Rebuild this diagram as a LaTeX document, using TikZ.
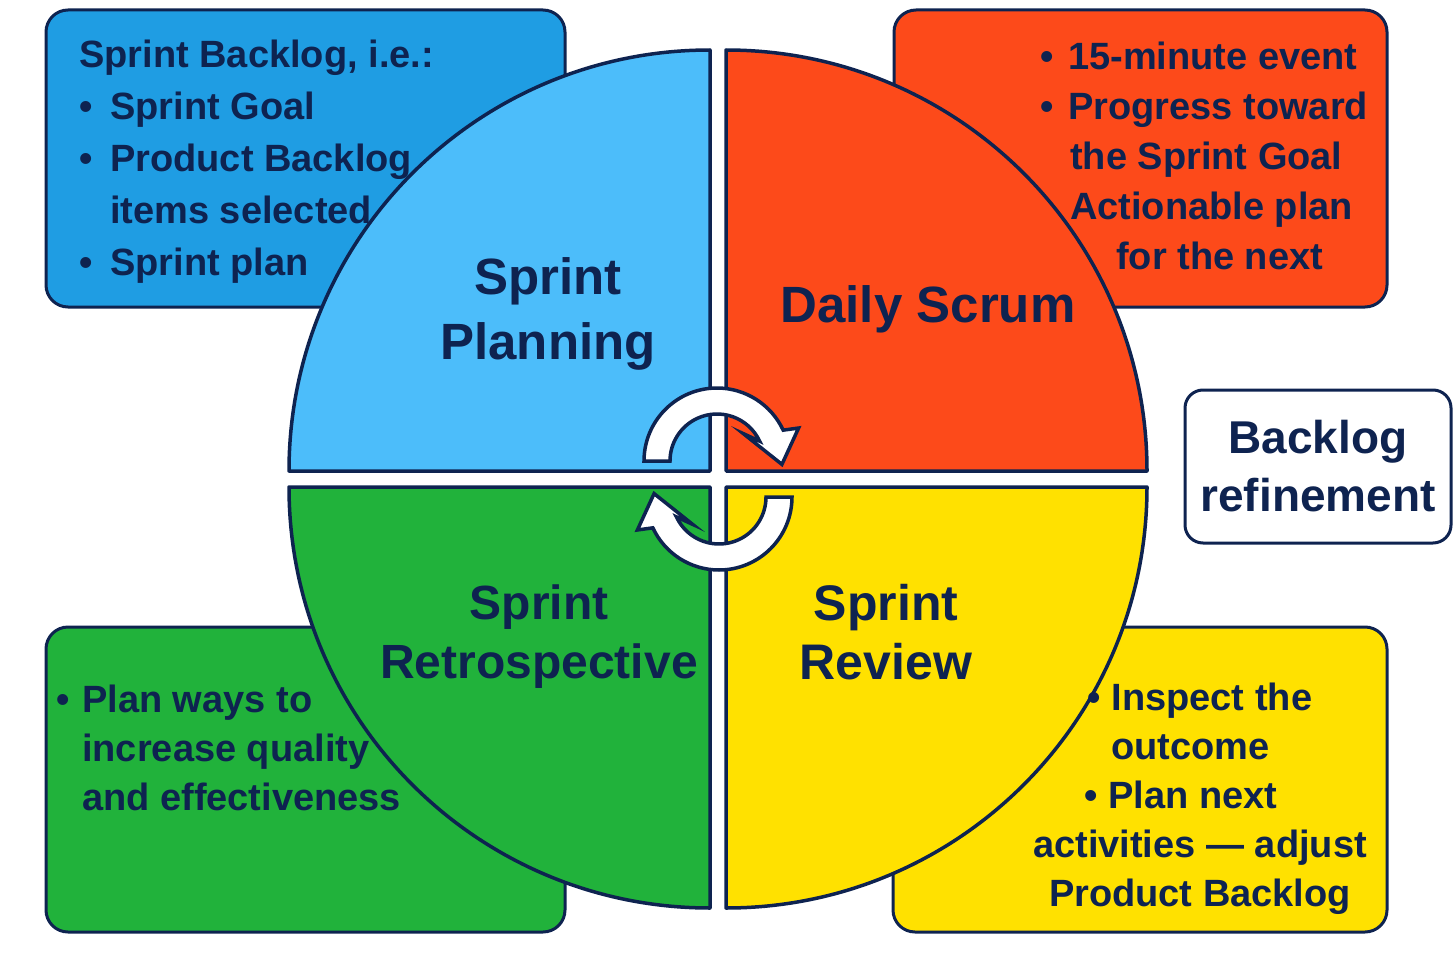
\documentclass[tikz,border=0pt]{standalone}
\usepackage{fontspec}
\setmainfont{Liberation Sans}

\definecolor{navy}{HTML}{0E2350}
\definecolor{boxblue}{HTML}{1F9DE3}
\definecolor{planblue}{HTML}{4CBDFA}
\definecolor{scrumred}{HTML}{FD4A1A}
\definecolor{retrogreen}{HTML}{21B23B}
\definecolor{reviewyellow}{HTML}{FFE100}

\tikzset{
  quad/.style={draw=navy, line width=3.5pt, line join=round},
  infobox/.style={draw=navy, line width=3pt, rounded corners=22pt},
  boxtext/.style={text=navy, inner sep=0pt, align=left,
    font=\bfseries\fontsize{38}{#1}\selectfont},
  phase/.style={text=navy, inner sep=0pt, align=center,
    font=\bfseries\fontsize{51}{65}\selectfont},
  arrowline/.style={draw=navy, fill=white, line width=3.5pt},
  cyclearrow/.pic={
    \draw[arrowline] (180:73) arc[start angle=180, end angle=25, radius=73]
      -- (22:88) -- (-3:65) -- (46:38) -- (25:47)
      arc[start angle=25, end angle=180, radius=47] -- cycle;
  }
}

\begin{document}
\begin{tikzpicture}[x=1pt, y=1pt]
  \useasboundingbox (0,0) rectangle (1456,-971);

  % side boxes
  \draw[infobox, fill=boxblue]     (46,-10)   rectangle (565,-307);
  \draw[infobox, fill=scrumred]    (894,-10)  rectangle (1387,-307);
  \draw[infobox, fill=retrogreen]  (46,-627)  rectangle (565,-932);
  \draw[infobox, fill=reviewyellow](893,-627) rectangle (1387,-932);

  % the four events
  \draw[quad, fill=planblue]     (710,-471) -- ++(-421,0) arc[start angle=180, end angle=90,  radius=421] -- cycle;
  \draw[quad, fill=scrumred]     (726,-471) -- ++(421,0)  arc[start angle=0,   end angle=90,  radius=421] -- cycle;
  \draw[quad, fill=retrogreen]   (710,-487) -- ++(-421,0) arc[start angle=180, end angle=270, radius=421] -- cycle;
  \draw[quad, fill=reviewyellow] (726,-487) -- ++(421,0)  arc[start angle=0,   end angle=-90, radius=421] -- cycle;

  \pic at (717,-461) {cyclearrow};
  \pic[rotate=180] at (719,-497) {cyclearrow};

  \node[phase, anchor=north] (planning) at (548,-257) {Sprint\\Planning};
  \node[phase, anchor=north] (scrum) at (928,-285) {Daily Scrum};
  \node[phase, anchor=north, font=\bfseries\fontsize{48}{59}\selectfont] (retro) at (539,-585) {Sprint\\Retrospective};
  \node[phase, anchor=north, font=\bfseries\fontsize{50}{59}\selectfont] (review) at (886,-584) {Sprint\\Review};

  % box texts
  \node[boxtext=52, anchor=north west] (backlog) at (79,-40)
    {Sprint Backlog, i.e.:\\
     \makebox[31pt][l]{•}Sprint Goal\\
     \makebox[31pt][l]{•}Product Backlog\\
     \hspace*{31pt}items selected\\
     \makebox[31pt][l]{•}Sprint plan};
  \node[boxtext=50, anchor=north west] (daily) at (1040,-42)
    {\makebox[28pt][l]{•}15-minute event\\
     \makebox[28pt][l]{•}Progress toward\\
     \hspace*{30pt}the Sprint Goal\\
     \hspace*{30pt}Actionable plan\\
     \hspace*{76pt}for the next};
  \node[boxtext=49, anchor=north west] (improve) at (56,-685)
    {\makebox[26pt][l]{•}Plan ways to\\
     \hspace*{26pt}increase quality\\
     \hspace*{26pt}and effectiveness};
  \node[boxtext=49, align=center, anchor=north] (inspect) at (1200,-683)
    {• Inspect the\\
     \makebox[178pt][l]{outcome}\\
     \makebox[231pt][l]{• Plan next}\\
     activities — adjust\\
     Product Backlog};

  \node[draw=navy, line width=3pt, rounded corners=18pt, fill=white,
        minimum width=266pt, minimum height=153pt, inner sep=0pt,
        text=navy, align=center, font=\bfseries\fontsize{46}{58}\selectfont]
        (refine) at (1318,-466.5) {Backlog\\refinement};
\end{tikzpicture}
\end{document}
